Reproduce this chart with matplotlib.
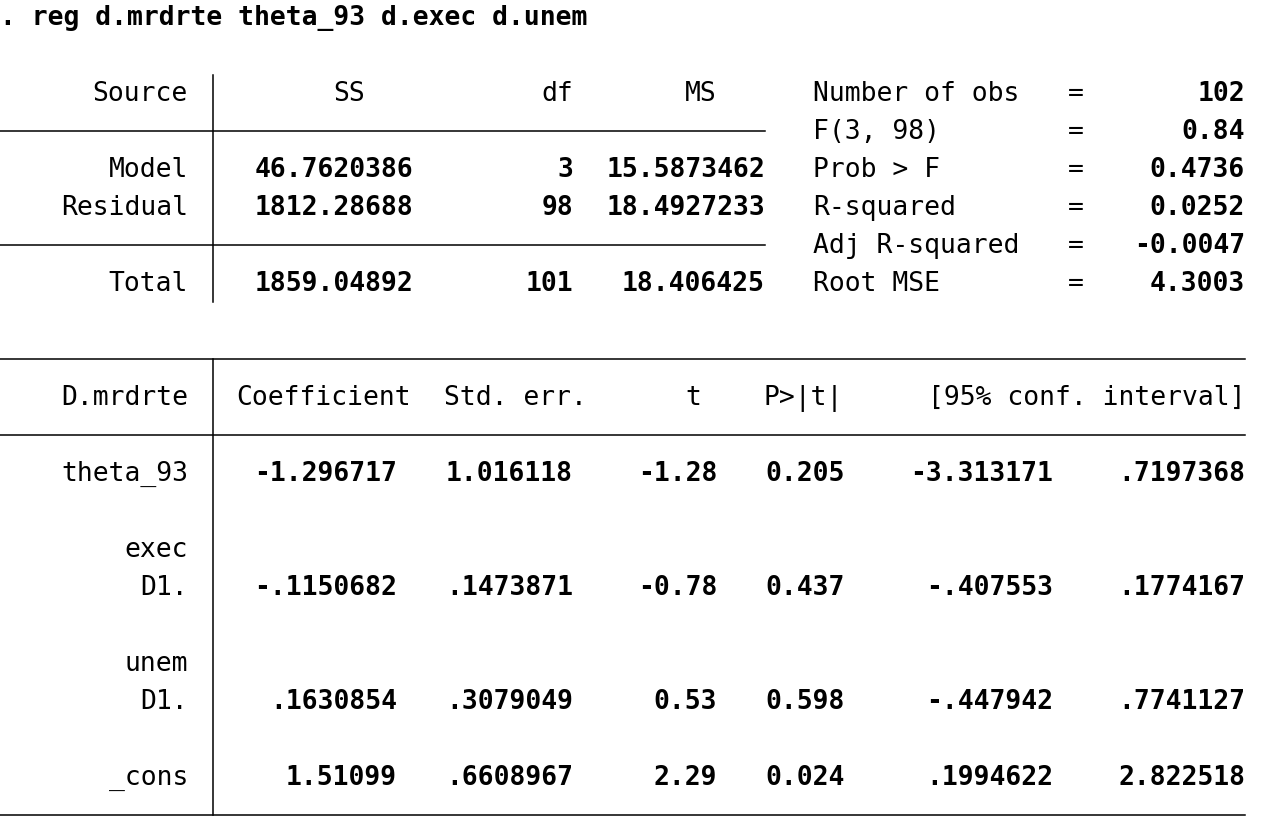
import matplotlib.pyplot as plt

# ANOVA part
src_rows = ["Model", "Residual", "Total"]
ss = ["46.7620386", "1812.28688", "1859.04892"]
df = ["3", "98", "101"]
ms = ["15.5873462", "18.4927233", "18.406425"]

stat_labels = ["Number of obs", "F(3, 98)", "Prob > F", "R-squared", "Adj R-squared", "Root MSE"]
stat_values = ["102", "0.84", "0.4736", "0.0252", "-0.0047", "4.3003"]

# coefficient table
coef_hdr = ["Coefficient", "Std. err.", "t", "P>|t|", "[95% conf. interval]"]
row_names = ["theta_93", "D1.", "D1.", "_cons"]
group_names = [None, "exec", "unem", None]
coef = ["-1.296717", "-.1150682", ".1630854", "1.51099"]
se = ["1.016118", ".1473871", ".3079049", ".6608967"]
tval = ["-1.28", "-0.78", "0.53", "2.29"]
pval = ["0.205", "0.437", "0.598", "0.024"]
ci_lo = ["-3.313171", "-.407553", "-.447942", ".1994622"]
ci_hi = [".7197368", ".1774167", ".7741127", "2.822518"]

fig = plt.figure(figsize=(12.86, 8.31), dpi=100)
ax = fig.add_axes([0, 0, 1, 1])
ax.set_xlim(0, 1286)
ax.set_ylim(831, 0)
ax.axis("off")

FONT = "DejaVu Sans Mono"
FS = 19

def put(x, y, s, ha="right", bold=False):
    ax.text(x, y, s, ha=ha, va="center", fontsize=FS, family=FONT,
            fontweight="bold" if bold else "normal", color="black")

put(0, 18, ". reg d.mrdrte theta_93 d.exec d.unem", ha="left", bold=True)

# top table
put(188, 94, "Source")
put(365, 94, "SS")
put(573, 94, "df")
put(717, 94, "MS")
for i, y in enumerate([170, 208, 284]):
    put(188, y, src_rows[i])
    put(413, y, ss[i], bold=True)
    put(573, y, df[i], bold=True)
    put(765, y, ms[i], bold=True)
ax.plot([213, 213], [75, 302], color="black", lw=1.1)
for y in [131, 245]:
    ax.plot([0, 765], [y, y], color="black", lw=1.1)

for i, (lab, val) in enumerate(zip(stat_labels, stat_values)):
    y = 94 + 38 * i
    put(813, y, lab, ha="left")
    put(1076, y, "=", ha="center")
    put(1245, y, val, bold=True)

# coefficient table
ax.plot([0, 1245], [359, 359], color="black", lw=1.1)
ax.plot([0, 1245], [435, 435], color="black", lw=1.1)
ax.plot([0, 1245], [815, 815], color="black", lw=1.1)
ax.plot([213, 213], [359, 815], color="black", lw=1.1)
put(188, 398, "D.mrdrte")
hdr_x = [411, 587, 701, 843, 1245]
for x, h in zip(hdr_x, coef_hdr):
    put(x, 398, h)

row_y = [474, 588, 702, 778]
cols = [(397, coef), (573, se), (717, tval), (845, pval), (1053, ci_lo), (1245, ci_hi)]
for i, y in enumerate(row_y):
    if group_names[i]:
        put(188, y - 38, group_names[i])
    put(188, y, row_names[i])
    for x, vals in cols:
        put(x, y, vals[i], bold=True)

fig.savefig("out.png", dpi=100)
